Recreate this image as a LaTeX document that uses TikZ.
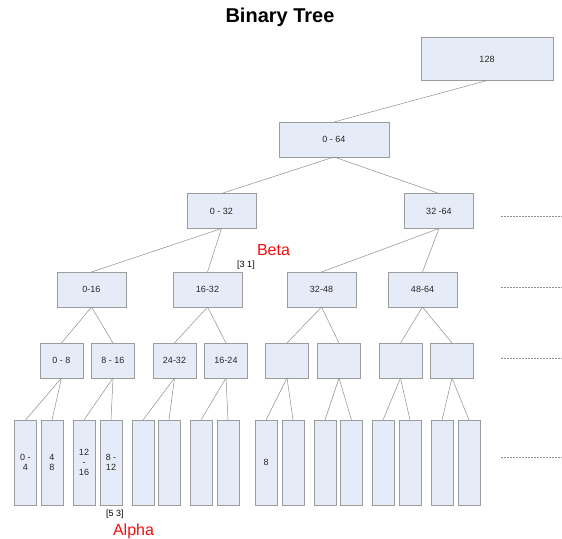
\documentclass[tikz,border=0pt]{standalone}
\usepackage{fontspec}
\setmainfont{Liberation Sans}
\definecolor{boxfill}{HTML}{E6ECF7}
\definecolor{boxline}{HTML}{9C9C9C}
\definecolor{conn}{HTML}{8E8E8E}
\definecolor{lblred}{HTML}{F01010}
\tikzset{
  tnode/.style={draw=boxline, fill=boxfill, line width=0.8pt, inner sep=0pt, outer sep=0pt,
    font=\fontsize{9}{10}\selectfont, align=center, text=black!85},
  lvlA/.style={tnode, minimum width=132pt, minimum height=43pt},
  lvlB/.style={tnode, minimum width=110pt, minimum height=35pt},
  lvlC/.style={tnode, minimum width=69pt, minimum height=35pt},
  lvlD/.style={tnode, minimum width=43pt, minimum height=35pt},
  leafbox/.style={tnode, minimum width=22pt, minimum height=85pt},
  edge/.style={draw=conn, line width=0.5pt},
  guide/.style={draw=conn, line width=0.4pt, dash pattern=on 2pt off 1pt},
  redlbl/.style={text=lblred, font=\fontsize{16}{18}\selectfont, inner sep=0pt},
  smlbl/.style={font=\fontsize{9}{10}\selectfont, inner sep=0pt}
}
\begin{document}
\begin{tikzpicture}[x=1pt,y=-1pt]
\useasboundingbox (0,0) rectangle (562,538);
\node[anchor=base, inner sep=0pt, font=\fontsize{20}{22}\selectfont\bfseries] (title) at (280,23) {Binary Tree};
% level 0
\node[lvlA] (root) at (487,59) {128};
% level 1
\node[lvlB] (n064) at (334,139.5) {0 - 64};
% level 2
\node[lvlC] (n032) at (221.5,211) {0 - 32};
\node[lvlC] (n3264) at (439,211) {32 -64};
% level 3
\node[lvlC] (n016) at (91.5,289.5) {0-16};
\node[lvlC] (n1632) at (207.5,289.5) {16-32};
\node[lvlC] (n3248) at (321.5,289.5) {32-48};
\node[lvlC] (n4864) at (422.5,289.5) {48-64};
% level 4
\node[lvlD] (qa) at (61.5,360.5) {0 - 8};
\node[lvlD] (qb) at (113,360.5) {8 - 16};
\node[lvlD] (qc) at (174.5,360.5) {24-32};
\node[lvlD] (qd) at (226,360.5) {16-24};
\node[lvlD] (qe) at (287,360.5) {};
\node[lvlD] (qf) at (339,360.5) {};
\node[lvlD] (qg) at (400.5,360.5) {};
\node[lvlD] (qh) at (452,360.5) {};
% leaves
\node[leafbox] (l1) at (25.5,462.5) {0 -\\4};
\node[leafbox] (l2) at (52,462.5) {4\\8};
\node[leafbox] (l3) at (84,462.5) {12\\-\\16};
\node[leafbox] (l4) at (111,462.5) {8 -\\12};
\node[leafbox] (l5) at (143,462.5) {};
\node[leafbox] (l6) at (169,462.5) {};
\node[leafbox] (l7) at (201,462.5) {};
\node[leafbox] (l8) at (228,462.5) {};
\node[leafbox] (l9) at (266,462.5) {8};
\node[leafbox] (l10) at (293,462.5) {};
\node[leafbox] (l11) at (325,462.5) {};
\node[leafbox] (l12) at (351.5,462.5) {};
\node[leafbox] (l13) at (383,462.5) {};
\node[leafbox] (l14) at (410,462.5) {};
\node[leafbox] (l15) at (442,462.5) {};
\node[leafbox] (l16) at (469,462.5) {};
% connectors
\draw[edge] (root.south) -- (n064.north);
\draw[edge] (n064.south) -- (n032.north);
\draw[edge] (n064.south) -- (n3264.north);
\draw[edge] (n032.south) -- (n016.north);
\draw[edge] (n032.south) -- (n1632.north);
\draw[edge] (n3264.south) -- (n3248.north);
\draw[edge] (n3264.south) -- (n4864.north);
\draw[edge] (n016.south) -- (qa.north);
\draw[edge] (n016.south) -- (qb.north);
\draw[edge] (n1632.south) -- (qc.north);
\draw[edge] (n1632.south) -- (qd.north);
\draw[edge] (n3248.south) -- (qe.north);
\draw[edge] (n3248.south) -- (qf.north);
\draw[edge] (n4864.south) -- (qg.north);
\draw[edge] (n4864.south) -- (qh.north);
\draw[edge] (qa.south) -- (l1.north);
\draw[edge] (qa.south) -- (l2.north);
\draw[edge] (qb.south) -- (l3.north);
\draw[edge] (qb.south) -- (l4.north);
\draw[edge] (qc.south) -- (l5.north);
\draw[edge] (qc.south) -- (l6.north);
\draw[edge] (qd.south) -- (l7.north);
\draw[edge] (qd.south) -- (l8.north);
\draw[edge] (qe.south) -- (l9.north);
\draw[edge] (qe.south) -- (l10.north);
\draw[edge] (qf.south) -- (l11.north);
\draw[edge] (qf.south) -- (l12.north);
\draw[edge] (qg.south) -- (l13.north);
\draw[edge] (qg.south) -- (l14.north);
\draw[edge] (qh.south) -- (l15.north);
\draw[edge] (qh.south) -- (l16.north);
% labels
\node[redlbl, anchor=base] (beta) at (273.5,255) {Beta};
\node[smlbl, anchor=base] (tag31) at (246,267) {[3 1]};
\node[smlbl, anchor=base] (tag53) at (115,516) {[5 3]};
\node[redlbl, anchor=base] (alpha) at (133.5,535) {Alpha};
% level guides
\coordinate (g1a) at (501,216); \coordinate (g1b) at (562,216);
\coordinate (g2a) at (501,287); \coordinate (g2b) at (562,287);
\coordinate (g3a) at (501,358); \coordinate (g3b) at (562,358);
\coordinate (g4a) at (501,457); \coordinate (g4b) at (562,457);
\draw[guide] (g1a) -- (g1b);
\draw[guide] (g2a) -- (g2b);
\draw[guide] (g3a) -- (g3b);
\draw[guide] (g4a) -- (g4b);
\end{tikzpicture}
\end{document}
